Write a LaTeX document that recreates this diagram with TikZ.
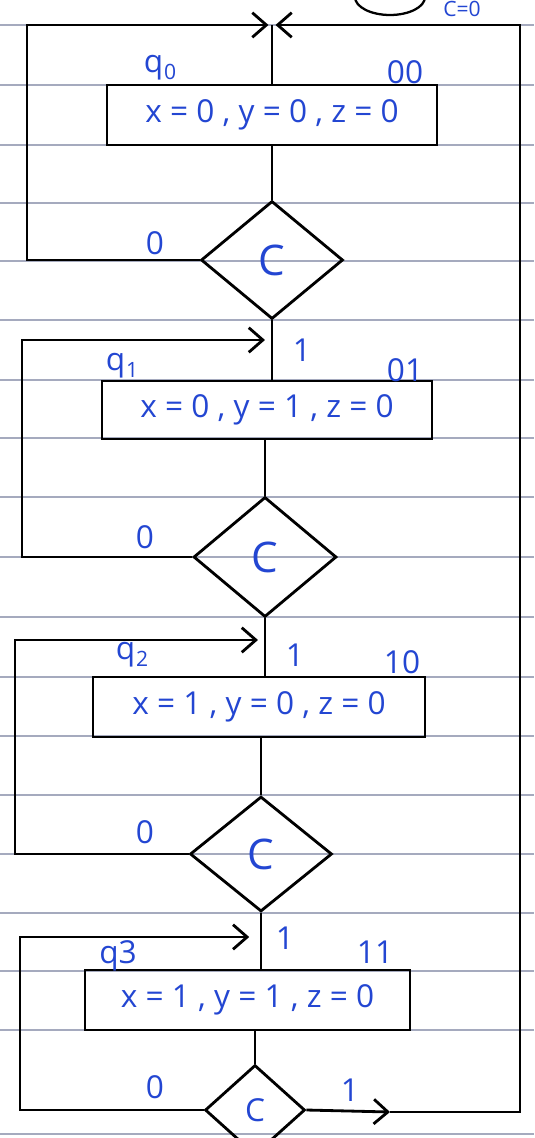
\documentclass[tikz,border=0pt]{standalone}
\usepackage{fontspec}
\setmainfont{Open Sans}
\usetikzlibrary{shapes.geometric,arrows.meta}
\definecolor{ink}{RGB}{35,70,210}
\definecolor{ruleline}{RGB}{165,170,190}
\newcommand{\qsub}[1]{q\kern0.5pt\raisebox{-0.4ex}{\fontsize{12}{12}\selectfont #1}}
\begin{document}
\begin{tikzpicture}[x=0.02cm,y=-0.02cm,
  stbox/.style={draw,line width=1.6pt,minimum height=1.2cm,inner sep=0pt,text=ink,font=\fontsize{18}{21}\selectfont},
  dec/.style={draw,diamond,line width=1.6pt,inner sep=0pt,text=ink,font=\fontsize{24}{28}\selectfont},
  lbl/.style={text=ink,font=\fontsize{18}{21}\selectfont,inner sep=0pt},
  conn/.style={line width=1.6pt},
  arr/.style={line width=1.6pt,-{Straight Barb[length=8pt,width=14pt,line width=1.6pt]}},
]
\path[clip] (0,0) rectangle (534,1138);
\fill[white] (0,0) rectangle (534,1138);
% ruled paper
\foreach \yy in {25,85,145,203,261,320,380,438,497,557,617,677,736,795,854,913,971,1030,1134}
  \draw[ruleline,line width=0.6pt] (0,\yy) -- (534,\yy);

% partial symbol at top right
\draw[line width=1.3pt] (390,-3) ellipse [x radius=0.7cm, y radius=0.36cm];
\node[lbl,font=\fontsize{12}{14}\selectfont] (c0) at (462,9) {C=0};

% state boxes
\node[stbox,minimum width=6.6cm] (b1) at (272,115) {x = 0 , y = 0 , z = 0};
\node[stbox,minimum width=6.6cm,minimum height=1.16cm] (b2) at (267,410) {x = 0 , y = 1 , z = 0};
\node[stbox,minimum width=6.64cm] (b3) at (259,707) {x = 1 , y = 0 , z = 0};
\node[stbox,minimum width=6.5cm] (b4) at (247.5,1000) {x = 1 , y = 1 , z = 0};

% decision diamonds
\node[dec,minimum width=2.84cm,minimum height=2.36cm] (d1) at (272,260) {C};
\node[dec,minimum width=2.86cm,minimum height=2.4cm] (d2) at (265,557) {C};
\node[dec,minimum width=2.84cm,minimum height=2.3cm] (d3) at (261,854) {C};
\node[dec,minimum width=2.0cm,minimum height=1.8cm,font=\fontsize{18}{22}\selectfont] (d4) at (255,1110) {C};

% helper coordinates
\coordinate (tl) at (27,25);
\coordinate (tr) at (520,25);
\coordinate (m0) at (272,25);
\coordinate (l1) at (22,340);
\coordinate (e1) at (272,340);
\coordinate (l2) at (15,640);
\coordinate (e2) at (265,640);
\coordinate (l3) at (20,937);
\coordinate (e3) at (258,937);
\coordinate (c1) at (390,1112);
\coordinate (br) at (520,1112);

% connectors
\draw[conn] (m0) -- (b1.north);
\draw[arr,shorten >=2pt] (d1.west) -- (d1.west -| tl) -- (tl) -- (m0);
\draw[arr] (d4.east) -- (c1);
\draw[arr,shorten >=2pt] (c1) -- (br) -- (tr) -- (m0);
\draw[conn] (b1.south) -- (d1.north);
\draw[conn] (d1.south) -- (d1.south |- b2.north);
\draw[arr,shorten >=4pt] (d2.west) -- (d2.west -| l1) -- (l1) -- (e1);
\draw[conn] (d2.north |- b2.south) -- (d2.north);
\draw[conn] (d2.south) -- (d2.south |- b3.north);
\draw[arr,shorten >=4pt] (d3.west) -- (d3.west -| l2) -- (l2) -- (e2);
\draw[conn] (d3.north |- b3.south) -- (d3.north);
\draw[conn] (d3.south) -- (d3.south |- b4.north);
\draw[arr,shorten >=5pt] (d4.west) -- (d4.west -| l3) -- (l3) -- (e3);
\draw[conn] (d4.north |- b4.south) -- (d4.north);

% state names and codes
\node[lbl] (q0) at (160,68) {\qsub{0}};
\node[lbl] (k0) at (405,72) {00};
\node[lbl] (q1) at (122,366) {\qsub{1}};
\node[lbl] (k1) at (405,370) {01};
\node[lbl] (q2) at (132,655) {\qsub{2}};
\node[lbl] (k2) at (402,662) {10};
\node[lbl] (q3) at (118,956) {q3};
\node[lbl] (k3) at (375,952) {11};

% branch labels
\node[lbl] (z1) at (155,243) {0};
\node[lbl] (o1) at (302,350) {1};
\node[lbl] (z2) at (145,537) {0};
\node[lbl] (o2) at (295,655) {1};
\node[lbl] (z3) at (145,832) {0};
\node[lbl] (o3) at (285,938) {1};
\node[lbl] (z4) at (155,1087) {0};
\node[lbl] (o4) at (350,1090) {1};
\end{tikzpicture}
\end{document}
